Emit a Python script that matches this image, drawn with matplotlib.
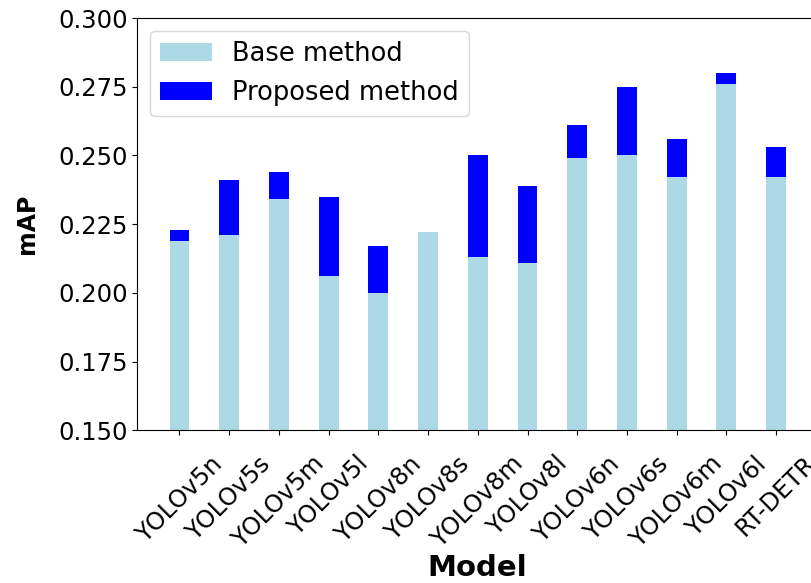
import numpy as np
import matplotlib.pyplot as plt

# mAP per model
models = ['YOLOv5n', 'YOLOv5s', 'YOLOv5m', 'YOLOv5l', 'YOLOv8n', 'YOLOv8s', 'YOLOv8m',
          'YOLOv8l', 'YOLOv6n', 'YOLOv6s', 'YOLOv6m', 'YOLOv6l', 'RT-DETR']
base_map = [0.219, 0.221, 0.234, 0.206, 0.200, 0.222, 0.213,
            0.211, 0.249, 0.250, 0.242, 0.276, 0.242]
proposed_map = [0.223, 0.241, 0.244, 0.235, 0.217, 0.221, 0.250,
                0.239, 0.261, 0.275, 0.256, 0.280, 0.253]

x = np.arange(len(models))
width = 0.4

fig = plt.figure(figsize=(8.12, 5.83), dpi=100)
# right spine sits just past the edge, the original screenshot was cropped
ax = fig.add_axes([0.169, 0.262, 0.837, 0.707])

# proposed behind, base in front -> visible blue part is the gain
p2 = ax.bar(x, proposed_map, width, color='blue', label='Proposed method', zorder=1)
p1 = ax.bar(x, base_map, width, color='lightblue', label='Base method', zorder=2)

ax.set_ylim(0.15, 0.30)
ax.set_xlim(-0.85, 12.82)
ax.set_yticks([0.150, 0.175, 0.200, 0.225, 0.250, 0.275, 0.300])
ax.set_yticklabels([f'{v:.3f}' for v in ax.get_yticks()], fontsize=17.5)
ax.set_xticks(x)
ax.set_xticklabels(models, rotation=45, ha='center', fontsize=17.5)
ax.tick_params(axis='x', pad=12)

ax.set_xlabel('Model', fontsize=21, fontweight='bold')
ax.set_ylabel('mAP', fontsize=17, fontweight='bold')
ax.yaxis.set_label_coords(-0.145, 0.5)
ax.xaxis.set_label_coords(0.5, -0.30)

ax.legend(handles=[p1, p2], loc='upper left', fontsize=18.5)

fig.savefig('out.png', dpi=100)
